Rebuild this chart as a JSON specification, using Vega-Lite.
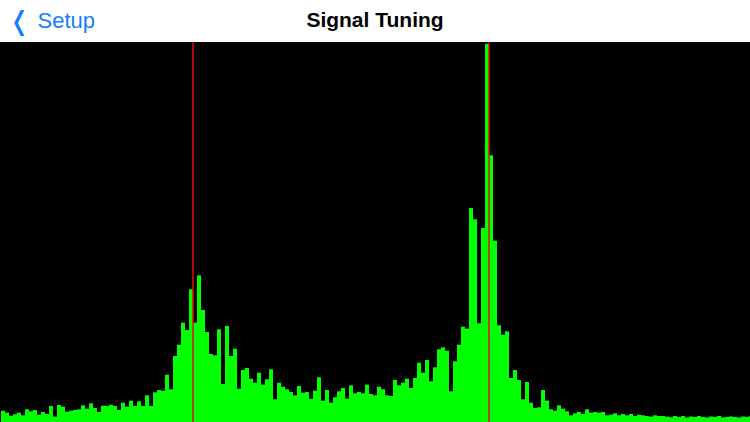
{
  "$schema": "https://vega.github.io/schema/vega-lite/v6.json",
  "width": 750,
  "height": 380,
  "autosize": {"type": "none"},
  "padding": {"top": 42, "left": 0, "right": 0, "bottom": 0},
  "background": "white",
  "title": {"text": "Signal Tuning", "fontSize": 21, "font": "Liberation Sans", "fontWeight": "bold", "color": "black", "anchor": "middle", "frame": "group", "baseline": "alphabetic", "offset": 15, "dy": 55},
  "config": {"view": {"fill": "black", "stroke": null}},
  "datasets": {
    "spectrum": [
      {"bin":0,"v":11.3},{"bin":1,"v":9.3},{"bin":2,"v":6.3},{"bin":3,"v":7.7},{"bin":4,"v":9.3},{"bin":5,"v":6.7},{"bin":6,"v":12.7},{"bin":7,"v":10.7},{"bin":8,"v":12},{"bin":9,"v":7.3},
      {"bin":10,"v":10},{"bin":11,"v":8},{"bin":12,"v":16},{"bin":13,"v":5.3},{"bin":14,"v":17},{"bin":15,"v":15.3},{"bin":16,"v":10.3},{"bin":17,"v":11.3},{"bin":18,"v":12},{"bin":19,"v":12.7},
      {"bin":20,"v":16.7},{"bin":21,"v":13.3},{"bin":22,"v":18.7},{"bin":23,"v":14},{"bin":24,"v":10},{"bin":25,"v":16.3},{"bin":26,"v":16},{"bin":27,"v":17.3},{"bin":28,"v":16},{"bin":29,"v":12},
      {"bin":30,"v":19.3},{"bin":31,"v":15.3},{"bin":32,"v":21.3},{"bin":33,"v":16},{"bin":34,"v":20.7},{"bin":35,"v":16},{"bin":36,"v":26.7},{"bin":37,"v":16},{"bin":38,"v":29.7},{"bin":39,"v":32},
      {"bin":40,"v":31.3},{"bin":41,"v":47.3},{"bin":42,"v":32.7},{"bin":43,"v":66},{"bin":44,"v":77.3},{"bin":45,"v":99.3},{"bin":46,"v":92},{"bin":47,"v":132.7},{"bin":48,"v":99.3},{"bin":49,"v":146.7},
      {"bin":50,"v":112},{"bin":51,"v":90},{"bin":52,"v":68},{"bin":53,"v":66.7},{"bin":54,"v":92.7},{"bin":55,"v":38},{"bin":56,"v":96},{"bin":57,"v":66},{"bin":58,"v":73.3},{"bin":59,"v":33.3},
      {"bin":60,"v":52},{"bin":61,"v":54},{"bin":62,"v":43.3},{"bin":63,"v":39.3},{"bin":64,"v":49.3},{"bin":65,"v":37.3},{"bin":66,"v":42.7},{"bin":67,"v":52.7},{"bin":68,"v":22.7},{"bin":69,"v":39.3},
      {"bin":70,"v":35.3},{"bin":71,"v":32.7},{"bin":72,"v":30},{"bin":73,"v":26.7},{"bin":74,"v":36},{"bin":75,"v":29.3},{"bin":76,"v":30},{"bin":77,"v":23.3},{"bin":78,"v":31.3},{"bin":79,"v":44.7},
      {"bin":80,"v":21.3},{"bin":81,"v":32},{"bin":82,"v":19.3},{"bin":83,"v":24.7},{"bin":84,"v":30.7},{"bin":85,"v":34},{"bin":86,"v":23.3},{"bin":87,"v":36.7},{"bin":88,"v":28.7},{"bin":89,"v":30},
      {"bin":90,"v":28.7},{"bin":91,"v":37.3},{"bin":92,"v":28},{"bin":93,"v":26.7},{"bin":94,"v":35.3},{"bin":95,"v":32.7},{"bin":96,"v":26.7},{"bin":97,"v":26},{"bin":98,"v":42},{"bin":99,"v":36.7},
      {"bin":100,"v":39.3},{"bin":101,"v":43.3},{"bin":102,"v":34},{"bin":103,"v":44},{"bin":104,"v":59.3},{"bin":105,"v":49.3},{"bin":106,"v":62},{"bin":107,"v":40.7},{"bin":108,"v":54.7},{"bin":109,"v":72.7},
      {"bin":110,"v":74.7},{"bin":111,"v":71.3},{"bin":112,"v":30.7},{"bin":113,"v":60.7},{"bin":114,"v":77.3},{"bin":115,"v":95.3},{"bin":116,"v":93.3},{"bin":117,"v":214},{"bin":118,"v":202.7},{"bin":119,"v":98.7},
      {"bin":120,"v":194},{"bin":121,"v":378},{"bin":122,"v":266.7},{"bin":123,"v":181.3},{"bin":124,"v":96.7},{"bin":125,"v":87.3},{"bin":126,"v":90.7},{"bin":127,"v":44},{"bin":128,"v":52},{"bin":129,"v":42},
      {"bin":130,"v":22.7},{"bin":131,"v":40},{"bin":132,"v":19.3},{"bin":133,"v":14},{"bin":134,"v":14.7},{"bin":135,"v":32},{"bin":136,"v":21.3},{"bin":137,"v":12.7},{"bin":138,"v":11.3},{"bin":139,"v":16.7},
      {"bin":140,"v":13.3},{"bin":141,"v":10.7},{"bin":142,"v":6.7},{"bin":143,"v":8.7},{"bin":144,"v":10},{"bin":145,"v":8},{"bin":146,"v":12.7},{"bin":147,"v":9.3},{"bin":148,"v":10},{"bin":149,"v":9.3},
      {"bin":150,"v":10},{"bin":151,"v":6.7},{"bin":152,"v":7.3},{"bin":153,"v":8.7},{"bin":154,"v":6.7},{"bin":155,"v":8},{"bin":156,"v":6.7},{"bin":157,"v":8},{"bin":158,"v":6},{"bin":159,"v":7.3},
      {"bin":160,"v":6.7},{"bin":161,"v":6},{"bin":162,"v":5.3},{"bin":163,"v":6.7},{"bin":164,"v":6},{"bin":165,"v":6},{"bin":166,"v":5.3},{"bin":167,"v":4.7},{"bin":168,"v":6},{"bin":169,"v":5},
      {"bin":170,"v":6},{"bin":171,"v":4.5},{"bin":172,"v":5.5},{"bin":173,"v":5},{"bin":174,"v":6},{"bin":175,"v":5},{"bin":176,"v":4.5},{"bin":177,"v":5.5},{"bin":178,"v":5},{"bin":179,"v":6},
      {"bin":180,"v":4.5},{"bin":181,"v":5},{"bin":182,"v":5.5},{"bin":183,"v":5},{"bin":184,"v":4.5},{"bin":185,"v":5.5},{"bin":186,"v":5},{"bin":187,"v":6}
    ],
    "markers": [{"bin": 48}, {"bin": 122}]
  },
  "layer": [
    {
      "data": {"name": "spectrum"},
      "mark": {"type": "bar", "color": "#00ff00", "stroke": null},
      "encoding": {
        "x": {
          "field": "bin", "type": "ordinal",
          "scale": {"paddingInner": 0, "paddingOuter": 0, "range": [1, 753]},
          "axis": {"orient": "top", "title": "Setup", "labels": false, "ticks": false, "domain": false, "grid": false,
                   "titleX": 37, "titleY": -15, "titleAlign": "left", "titleAnchor": "start", "titleBaseline": "alphabetic",
                   "titleFont": "Liberation Sans", "titleFontSize": 22, "titleFontWeight": "normal", "titleColor": "#157EFB"}
        },
        "y": {
          "field": "v", "type": "quantitative",
          "scale": {"domain": [0, 380]},
          "axis": {"title": "❬", "labels": false, "ticks": false, "domain": false, "grid": false,
                   "titleAngle": 0, "titleX": 8, "titleY": -21, "titleAlign": "left", "titleBaseline": "middle",
                   "titleFont": "DejaVu Sans", "titleFontSize": 26, "titleFontWeight": "bold", "titleColor": "#157EFB"}
        }
      }
    },
    {
      "data": {"name": "markers"},
      "mark": {"type": "rule", "color": "#e01010", "strokeWidth": 1.5},
      "encoding": {"x": {"field": "bin", "type": "ordinal", "bandPosition": 0}}
    }
  ]
}
